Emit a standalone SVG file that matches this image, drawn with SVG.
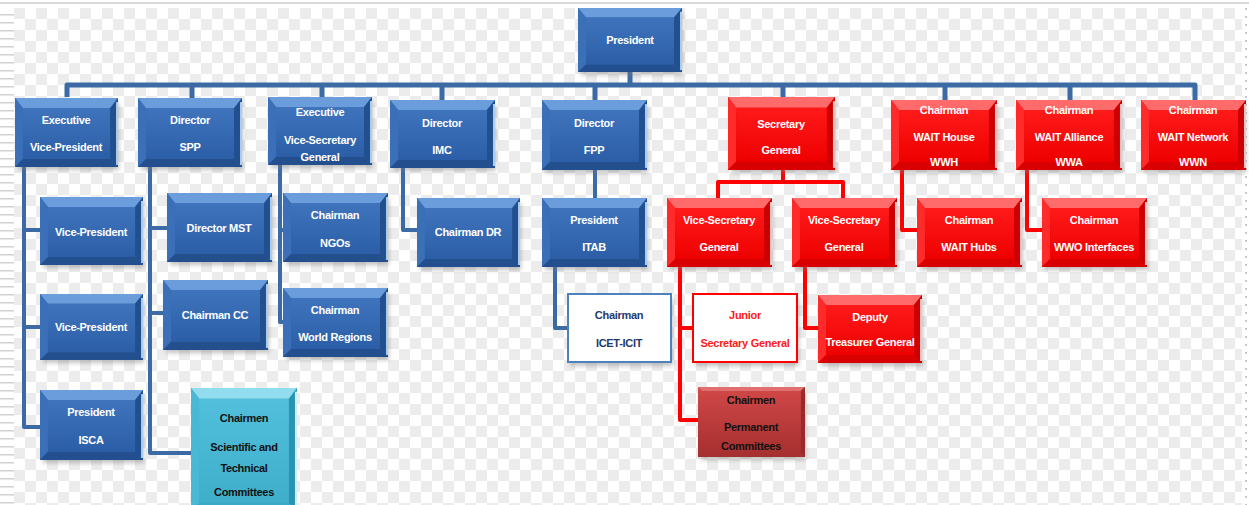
<svg xmlns="http://www.w3.org/2000/svg" xmlns:xlink="http://www.w3.org/1999/xlink" width="1249" height="505" viewBox="0 0 1249 505">
<defs>
<pattern id="chk" x="14" y="8" width="22" height="22" patternUnits="userSpaceOnUse">
<rect width="22" height="22" fill="#ffffff"/>
<rect width="11" height="11" fill="#ececec"/>
<rect x="11" y="11" width="11" height="11" fill="#ececec"/>
</pattern>
<pattern id="stripes" x="0" y="0" width="14" height="8" patternUnits="userSpaceOnUse">
<rect width="14" height="8" fill="#ffffff"/>
<rect y="6" width="14" height="1.5" fill="#d2d2d2"/>
</pattern>
<linearGradient id="gBlue" x1="0" y1="0" x2="0" y2="1"><stop offset="0" stop-color="#3f74bd"/><stop offset="1" stop-color="#2b5ea6"/></linearGradient>
<linearGradient id="gRed" x1="0" y1="0" x2="0" y2="1"><stop offset="0" stop-color="#ff1a1a"/><stop offset="1" stop-color="#ee0000"/></linearGradient>
<linearGradient id="gCyan" x1="0" y1="0" x2="0" y2="1"><stop offset="0" stop-color="#52c0dc"/><stop offset="1" stop-color="#3eaecb"/></linearGradient>
<linearGradient id="gDark" x1="0" y1="0" x2="0" y2="1"><stop offset="0" stop-color="#d24848"/><stop offset="1" stop-color="#a52f2f"/></linearGradient>
<symbol id="bBlue" viewBox="0 0 104 68" preserveAspectRatio="none">
<rect x="0" y="0" width="104" height="68" fill="#2f62a8"/>
<polygon points="0,0 104,0 96,10 8,10" fill="#6b9ddd"/>
<polygon points="0,0 8,10 8,60 0,68" fill="#3b70b9"/>
<polygon points="104,0 104,68 96,60 96,10" fill="#22508f"/>
<polygon points="0,68 104,68 96,60 8,60" fill="#234f8e"/>
<rect x="8" y="10" width="88" height="50" fill="url(#gBlue)"/>
<rect x="102" y="4" width="2" height="62" fill="#a9cdf0"/>
</symbol>
<symbol id="bRed" viewBox="0 0 104 68" preserveAspectRatio="none">
<rect x="0" y="0" width="104" height="68" fill="#f00000"/>
<polygon points="0,0 104,0 96,10 8,10" fill="#ff6a6a"/>
<polygon points="0,0 8,10 8,60 0,68" fill="#ff2a2a"/>
<polygon points="104,0 104,68 96,60 96,10" fill="#cc0000"/>
<polygon points="0,68 104,68 96,60 8,60" fill="#d80000"/>
<rect x="8" y="10" width="88" height="50" fill="url(#gRed)"/>
<rect x="102" y="4" width="2" height="62" fill="#ffc0c0"/>
</symbol>
<symbol id="bCyan" viewBox="0 0 104 68" preserveAspectRatio="none">
<rect x="0" y="0" width="104" height="68" fill="#3aaac8"/>
<polygon points="0,0 104,0 96,6 8,6" fill="#92dcef"/>
<polygon points="0,0 8,6 8,64 0,68" fill="#49b8d5"/>
<polygon points="104,0 104,68 96,64 96,6" fill="#2a93b0"/>
<rect x="8" y="6" width="88" height="58" fill="url(#gCyan)"/>
<rect x="102" y="2" width="2" height="66" fill="#c8f0fa"/>
</symbol>
<symbol id="bDark" viewBox="0 0 104 68" preserveAspectRatio="none">
<rect x="0" y="0" width="104" height="68" fill="url(#gDark)"/>
<polygon points="0,0 104,0 100,4 4,4" fill="#e07070"/>
<polygon points="104,0 104,68 100,64 100,4" fill="#9a2a2a"/>
</symbol>
<filter id="sh" x="-10%" y="-10%" width="130%" height="140%"><feGaussianBlur stdDeviation="2"/></filter>
</defs>
<style>
.t{font-family:"Liberation Sans",Arial,sans-serif;font-size:11px;font-weight:bold;fill:#ffffff;text-anchor:middle;letter-spacing:-0.3px}
.tk{fill:#111111}
.tb{fill:#1f3a6e}
.tr{fill:#ff1a1a}
.cb{fill:none;stroke:#3c6aa4;stroke-width:5;stroke-linejoin:round}
.cbs{fill:none;stroke:#3c6aa4;stroke-width:4;stroke-linejoin:round}
.cr{fill:none;stroke:#ff0000;stroke-width:4;stroke-linejoin:round}
.shd{fill:#7a7a7a;opacity:0.45;filter:url(#sh)}
</style>
<rect x="0" y="0" width="1249" height="505" fill="#ffffff"/>
<rect x="14" y="8" width="1228" height="497" fill="url(#chk)"/>
<rect x="0" y="8" width="14" height="497" fill="url(#stripes)"/>
<rect x="0" y="2" width="1249" height="2" fill="#d8d8d8"/>
<line x1="1246" y1="8" x2="1246" y2="505" stroke="#c8c8c8" stroke-width="2" stroke-dasharray="2,6"/>

<g id="connectors">
<path class="cb" d="M630,72 V85"/>
<path class="cb" d="M67,97 V85 H1195 V100"/>
<path class="cb" d="M192,85 V98 M322,85 V97 M442,85 V100 M595,85 V100 M783,85 V97 M945,85 V100 M1070,85 V100"/>
<path class="cbs" d="M24,167 V427 H40 M24,230 H40 M24,327 H40"/>
<path class="cbs" d="M150,167 V453 H191 M150,228 H167 M150,313 H163"/>
<path class="cbs" d="M280,165 V322 H283 M280,230 H283"/>
<path class="cbs" d="M403,168 V230 H417"/>
<path class="cbs" d="M595,170 V198"/>
<path class="cbs" d="M555,267 V328 H567"/>
<path class="cr" d="M783,170 V182 M718,198 V182 H843 V198"/>
<path class="cr" d="M680,267 V420 H698 M680,328 H692"/>
<path class="cr" d="M805,267 V328 H818"/>
<path class="cr" d="M902,170 V230 H917"/>
<path class="cr" d="M1027,170 V230 H1042"/>
</g>

<g id="president"><rect class="shd" x="581" y="13" width="102" height="62"/><use href="#bBlue" x="578" y="8" width="104" height="64"/><text class="t" x="630" y="44">President</text></g>
<g id="evp"><rect class="shd" x="18" y="103" width="101" height="67"/><use href="#bBlue" x="15" y="98" width="103" height="69"/><text class="t" x="66" y="124">Executive</text><text class="t" x="66" y="151">Vice-President</text></g>
<g id="spp"><rect class="shd" x="141" y="103" width="102" height="67"/><use href="#bBlue" x="138" y="98" width="104" height="69"/><text class="t" x="190" y="124">Director</text><text class="t" x="190" y="151">SPP</text></g>
<g id="evsg"><rect class="shd" x="271" y="102" width="102" height="66"/><use href="#bBlue" x="268" y="97" width="104" height="68"/><text class="t" x="320" y="116">Executive</text><text class="t" x="320" y="144">Vice-Secretary</text><text class="t" x="320" y="161">General</text></g>
<g id="imc"><rect class="shd" x="393" y="105" width="103" height="66"/><use href="#bBlue" x="390" y="100" width="105" height="68"/><text class="t" x="442" y="127">Director</text><text class="t" x="442" y="154">IMC</text></g>
<g id="fpp"><rect class="shd" x="545" y="105" width="103" height="68"/><use href="#bBlue" x="542" y="100" width="105" height="70"/><text class="t" x="594" y="127">Director</text><text class="t" x="594" y="154">FPP</text></g>
<g id="sg"><rect class="shd" x="731" y="102" width="105" height="71"/><use href="#bRed" x="728" y="97" width="107" height="73"/><text class="t" x="781" y="128">Secretary</text><text class="t" x="781" y="154">General</text></g>
<g id="wwh"><rect class="shd" x="894" y="105" width="104" height="68"/><use href="#bRed" x="891" y="100" width="106" height="70"/><text class="t" x="944" y="114">Chairman</text><text class="t" x="944" y="141">WAIT House</text><text class="t" x="944" y="166">WWH</text></g>
<g id="wwa"><rect class="shd" x="1019" y="105" width="104" height="68"/><use href="#bRed" x="1016" y="100" width="106" height="70"/><text class="t" x="1069" y="114">Chairman</text><text class="t" x="1069" y="141">WAIT Alliance</text><text class="t" x="1069" y="166">WWA</text></g>
<g id="wwn"><rect class="shd" x="1144" y="105" width="102" height="68"/><use href="#bRed" x="1141" y="100" width="105" height="70"/><text class="t" x="1193" y="114">Chairman</text><text class="t" x="1193" y="141">WAIT Network</text><text class="t" x="1193" y="166">WWN</text></g>

<g id="vp1"><rect class="shd" x="43" y="202" width="101" height="66"/><use href="#bBlue" x="40" y="197" width="103" height="68"/><text class="t" x="91" y="236">Vice-President</text></g>
<g id="mst"><rect class="shd" x="170" y="198" width="103" height="67"/><use href="#bBlue" x="167" y="193" width="105" height="69"/><text class="t" x="219" y="232">Director MST</text></g>
<g id="ngos"><rect class="shd" x="286" y="198" width="103" height="67"/><use href="#bBlue" x="283" y="193" width="105" height="69"/><text class="t" x="335" y="219">Chairman</text><text class="t" x="335" y="247">NGOs</text></g>
<g id="dr"><rect class="shd" x="420" y="203" width="101" height="67"/><use href="#bBlue" x="417" y="198" width="103" height="69"/><text class="t" x="468" y="236">Chairman DR</text></g>
<g id="itab"><rect class="shd" x="545" y="203" width="103" height="67"/><use href="#bBlue" x="542" y="198" width="105" height="69"/><text class="t" x="594" y="224">President</text><text class="t" x="594" y="251">ITAB</text></g>
<g id="vsg1"><rect class="shd" x="670" y="203" width="103" height="67"/><use href="#bRed" x="667" y="198" width="105" height="69"/><text class="t" x="719" y="224">Vice-Secretary</text><text class="t" x="719" y="251">General</text></g>
<g id="vsg2"><rect class="shd" x="795" y="203" width="103" height="67"/><use href="#bRed" x="792" y="198" width="105" height="69"/><text class="t" x="844" y="224">Vice-Secretary</text><text class="t" x="844" y="251">General</text></g>
<g id="hubs"><rect class="shd" x="920" y="203" width="103" height="67"/><use href="#bRed" x="917" y="198" width="105" height="69"/><text class="t" x="969" y="224">Chairman</text><text class="t" x="969" y="251">WAIT Hubs</text></g>
<g id="wwo"><rect class="shd" x="1045" y="203" width="103" height="67"/><use href="#bRed" x="1042" y="198" width="105" height="69"/><text class="t" x="1094" y="224">Chairman</text><text class="t" x="1094" y="251">WWO Interfaces</text></g>

<g id="vp2"><rect class="shd" x="43" y="299" width="101" height="64"/><use href="#bBlue" x="40" y="294" width="103" height="66"/><text class="t" x="91" y="331">Vice-President</text></g>
<g id="cc"><rect class="shd" x="166" y="285" width="103" height="68"/><use href="#bBlue" x="163" y="280" width="105" height="70"/><text class="t" x="215" y="319">Chairman CC</text></g>
<g id="wreg"><rect class="shd" x="286" y="293" width="103" height="67"/><use href="#bBlue" x="283" y="288" width="105" height="69"/><text class="t" x="335" y="314">Chairman</text><text class="t" x="335" y="341">World Regions</text></g>
<g id="icet"><rect class="shd" x="570" y="298" width="103" height="68"/><rect x="568" y="294" width="103" height="68" fill="#ffffff" stroke="#4f81bd" stroke-width="2"/><text class="t tb" x="619" y="319">Chairman</text><text class="t tb" x="619" y="347">ICET-ICIT</text></g>
<g id="junior"><rect class="shd" x="695" y="298" width="104" height="68"/><rect x="693" y="294" width="104" height="68" fill="#ffffff" stroke="#ff0000" stroke-width="2"/><text class="t tr" x="745" y="319">Junior</text><text class="t tr" x="745" y="347">Secretary General</text></g>
<g id="deputy"><rect class="shd" x="821" y="300" width="102" height="66"/><use href="#bRed" x="818" y="295" width="104" height="68"/><text class="t" x="870" y="321">Deputy</text><text class="t" x="870" y="346">Treasurer General</text></g>

<g id="isca"><rect class="shd" x="43" y="395" width="101" height="68"/><use href="#bBlue" x="40" y="390" width="103" height="70"/><text class="t" x="91" y="416">President</text><text class="t" x="91" y="444">ISCA</text></g>
<g id="sci"><use href="#bCyan" x="191" y="388" width="106" height="122"/><text class="t tk" x="244" y="422">Chairmen</text><text class="t tk" x="244" y="451">Scientific  and</text><text class="t tk" x="244" y="472">Technical</text><text class="t tk" x="244" y="496">Committees</text></g>
<g id="perm"><rect class="shd" x="701" y="392" width="105" height="68"/><use href="#bDark" x="698" y="387" width="107" height="70"/><text class="t tk" x="751" y="404">Chairmen</text><text class="t tk" x="751" y="431">Permanent</text><text class="t tk" x="751" y="450">Committees</text></g>
</svg>
